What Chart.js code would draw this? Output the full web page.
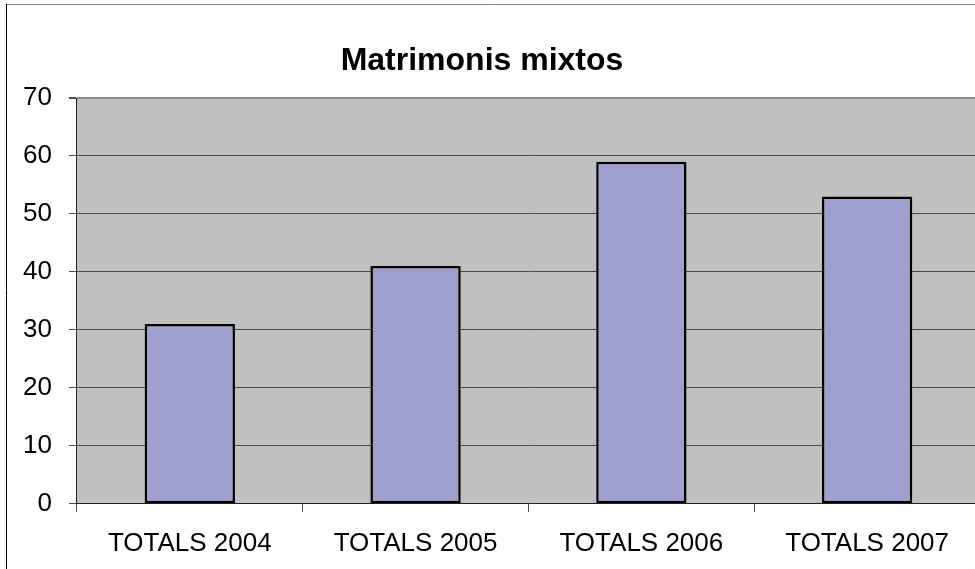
<!DOCTYPE html>
<html>
<head>
<meta charset="utf-8">
<script src="https://cdn.jsdelivr.net/npm/chart.js@4"></script>
<style>
    html, body { margin: 0; padding: 0; overflow: hidden; background: #fff; }
    #wrap { width: 985px; height: 587px; }
</style>
</head>
<body>
<div id="wrap"><canvas id="matrimonisChart" width="985" height="587"></canvas></div>
<script>
// Dades
const categories = ['TOTALS 2004', 'TOTALS 2005', 'TOTALS 2006', 'TOTALS 2007'];
const values = [31, 41, 59, 53];
const yTicks = [0, 10, 20, 30, 40, 50, 60, 70];
const chartTitle = 'Matrimonis mixtos';

const colors = {
    plotBg: '#C0C0C0',
    bar: '#9FA0D0',
    grid: '#4A4A4A',
    text: '#000000'
};

Chart.defaults.font.family = "'Liberation Sans', Arial, sans-serif";
Chart.defaults.color = colors.text;

// fons de l'area del grafic, marc exterior i titol
const excelLook = {
    id: 'excelLook',
    beforeDraw(chart) {
        const { ctx, chartArea } = chart;
        ctx.save();
        ctx.fillStyle = colors.plotBg;
        ctx.fillRect(chartArea.left, chartArea.top, chartArea.right - chartArea.left, chartArea.bottom - chartArea.top);
        ctx.restore();
    },
    afterDraw(chart) {
        const { ctx } = chart;
        ctx.save();
        ctx.lineWidth = 1;
        ctx.strokeStyle = '#888888';
        ctx.beginPath();
        ctx.moveTo(6, 4.5);
        ctx.lineTo(chart.width, 4.5);
        ctx.stroke();
        ctx.strokeStyle = '#000000';
        ctx.beginPath();
        ctx.moveTo(6.5, 4);
        ctx.lineTo(6.5, chart.height);
        ctx.stroke();

        ctx.fillStyle = colors.text;
        ctx.font = "bold 32px 'Liberation Sans', Arial, sans-serif";
        ctx.textAlign = 'center';
        ctx.textBaseline = 'alphabetic';
        ctx.fillText(chartTitle, 482, 70);
        ctx.restore();
    }
};

new Chart(document.getElementById('matrimonisChart'), {
    type: 'bar',
    data: {
        labels: categories,
        datasets: [{
            data: values,
            backgroundColor: colors.bar,
            borderColor: '#000000',
            borderWidth: 2.5,
            borderSkipped: false,
            barPercentage: 0.4,
            categoryPercentage: 1.0
        }]
    },
    options: {
        responsive: false,
        animation: false,
        layout: {
            padding: { top: 98, left: 6, right: 5, bottom: 12 }
        },
        plugins: {
            legend: { display: false },
            title: { display: false },
            tooltip: { enabled: false }
        },
        scales: {
            y: {
                min: 0,
                max: 70,
                afterBuildTicks: (axis) => {
                    axis.ticks = yTicks.map(v => ({ value: v }));
                },
                grid: {
                    color: (c) => c.tick && c.tick.value === 70 ? '#8A8A8A' : colors.grid,
                    lineWidth: (c) => c.tick && c.tick.value === 70 ? 2 : 1,
                    tickLength: 8,
                    tickColor: colors.grid
                },
                border: { color: '#222222', width: 1 },
                ticks: {
                    padding: 17,
                    color: colors.text,
                    font: { size: 26 }
                }
            },
            x: {
                grid: {
                    offset: true,
                    drawOnChartArea: false,
                    drawTicks: true,
                    tickLength: 8,
                    tickColor: colors.grid
                },
                border: { color: '#222222', width: 1 },
                ticks: {
                    padding: 16,
                    color: colors.text,
                    font: { size: 26 }
                }
            }
        }
    },
    plugins: [excelLook]
});
</script>
</body>
</html>
